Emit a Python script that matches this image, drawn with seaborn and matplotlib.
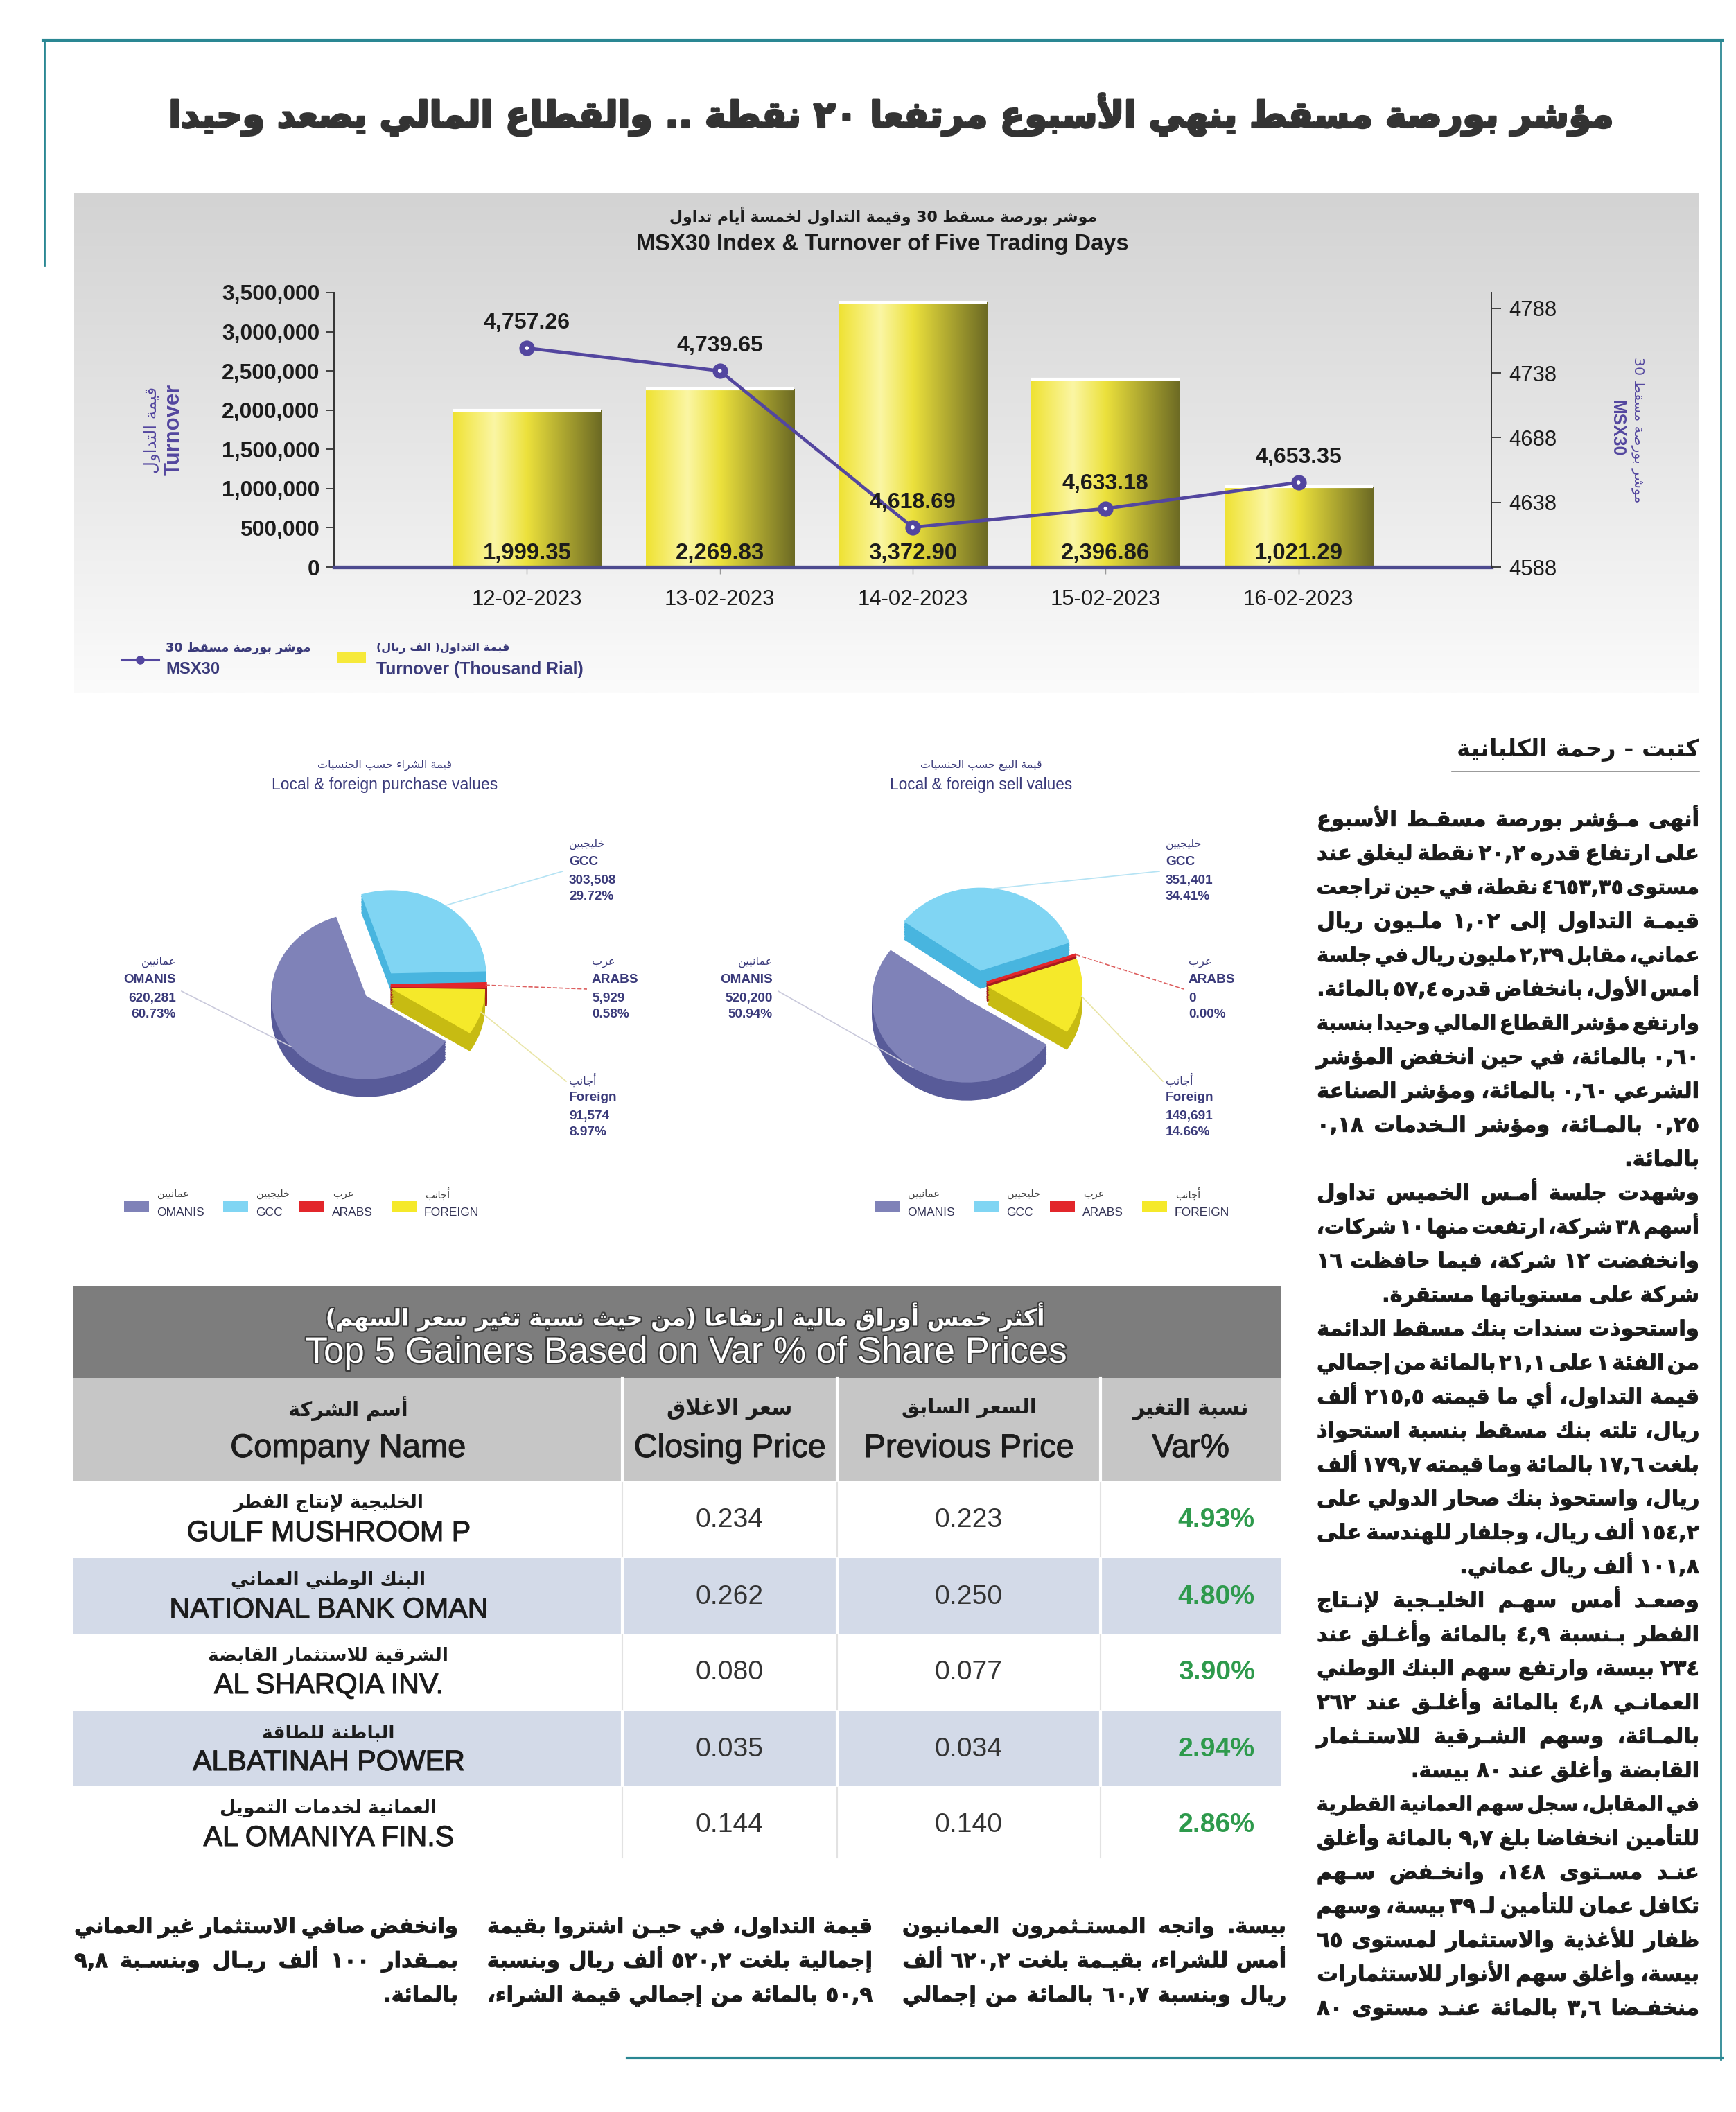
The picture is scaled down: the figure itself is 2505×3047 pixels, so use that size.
import numpy as np
import pandas as pd
import matplotlib
matplotlib.use('Agg')
import matplotlib.pyplot as plt
import seaborn as sns
from matplotlib.colors import LinearSegmentedColormap
from matplotlib.patches import Rectangle
from matplotlib.lines import Line2D
from matplotlib import font_manager as fm
from matplotlib.font_manager import FontProperties
from matplotlib.textpath import text_to_path
import matplotlib.patheffects as pe

# ------------------------------------------------------------------ data
title_ar = 'مؤشر بورصة مسقط ينهي الأسبوع مرتفعا ٢٠ نقطة .. والقطاع المالي يصعد وحيدا'
byline_ar = 'كتبت - رحمة الكلبانية'

chart_title_ar = 'موشر بورصة مسقط 30 وقيمة التداول لخمسة أيام تداول'
chart_title_en = 'MSX30 Index & Turnover of Five Trading Days'
dates = ['12-02-2023', '13-02-2023', '14-02-2023', '15-02-2023', '16-02-2023']
turnover_thousand = [1999.35, 2269.83, 3372.90, 2396.86, 1021.29]
msx30 = [4757.26, 4739.65, 4618.69, 4633.18, 4653.35]
left_ticks = [0, 500000, 1000000, 1500000, 2000000, 2500000, 3000000, 3500000]
right_ticks = [4588, 4638, 4688, 4738, 4788]
left_label_ar = 'قيمة التداول'
left_label_en = 'Turnover'
right_label_ar = 'موشر بورصة مسقط 30'
right_label_en = 'MSX30'
legend_line_ar = 'موشر بورصة مسقط 30'
legend_line_en = 'MSX30'
legend_bar_ar = 'قيمة التداول( الف ريال)'
legend_bar_en = 'Turnover (Thousand Rial)'

groups_ar = ['عمانيين', 'خليجيين', 'عرب', 'أجانب']
groups_label = ['OMANIS', 'GCC', 'ARABS', 'Foreign']
groups_legend = ['OMANIS', 'GCC', 'ARABS', 'FOREIGN']
buy_title_ar = 'قيمة الشراء حسب الجنسيات'
buy_title_en = 'Local & foreign purchase values'
buy_values = [620281, 303508, 5929, 91574]
buy_pct = [60.73, 29.72, 0.58, 8.97]
sell_title_ar = 'قيمة البيع حسب الجنسيات'
sell_title_en = 'Local & foreign sell values'
sell_values = [520200, 351401, 0, 149691]
sell_pct = [50.94, 34.41, 0.00, 14.66]

table_title_ar = 'أكثر خمس أوراق مالية ارتفاعا (من حيث نسبة تغير سعر السهم)'
table_title_en = 'Top 5 Gainers Based on Var % of Share Prices'
headers_ar = ['أسم الشركة', 'سعر الاغلاق', 'السعر السابق', 'نسبة التغير']
headers_en = ['Company Name', 'Closing Price', 'Previous Price', 'Var%']
companies_ar = ['الخليجية لإنتاج الفطر', 'البنك الوطني العماني', 'الشرقية للاستثمار القابضة',
                'الباطنة للطاقة', 'العمانية لخدمات التمويل']
companies_en = ['GULF MUSHROOM P', 'NATIONAL BANK OMAN', 'AL SHARQIA INV.',
                'ALBATINAH POWER', 'AL OMANIYA FIN.S']
closing_price = [0.234, 0.262, 0.080, 0.035, 0.144]
previous_price = [0.223, 0.250, 0.077, 0.034, 0.140]
var_pct = [4.93, 4.80, 3.90, 2.94, 2.86]

body_lines = [
    'أنهى مؤشر بورصة مسقط الأسبوع',
    'على ارتفاع قدره ٢٠,٢ نقطة ليغلق عند',
    'مستوى ٤٦٥٣,٣٥ نقطة، في حين تراجعت',
    'قيمة التداول إلى ١,٠٢ مليون ريال',
    'عماني، مقابل ٢,٣٩ مليون ريال في جلسة',
    'أمس الأول، بانخفاض قدره ٥٧,٤ بالمائة.',
    'وارتفع مؤشر القطاع المالي وحيدًا بنسبة',
    '٠,٦٠ بالمائة، في حين انخفض المؤشر',
    'الشرعي ٠,٦٠ بالمائة، ومؤشر الصناعة',
    '٠,٢٥ بالمائة، ومؤشر الخدمات ٠,١٨',
    'بالمائة.',
    'وشهدت جلسة أمس الخميس تداول',
    'أسهم ٣٨ شركة، ارتفعت منها ١٠ شركات،',
    'وانخفضت ١٢ شركة، فيما حافظت ١٦',
    'شركة على مستوياتها مستقرة.',
    'واستحوذت سندات بنك مسقط الدائمة',
    'من الفئة ١ على ٢١,١ بالمائة من إجمالي',
    'قيمة التداول، أي ما قيمته ٢١٥,٥ ألف',
    'ريال، تلته بنك مسقط بنسبة استحواذ',
    'بلغت ١٧,٦ بالمائة وما قيمته ١٧٩,٧ ألف',
    'ريال، واستحوذ بنك صحار الدولي على',
    '١٥٤,٢ ألف ريال، وجلفار للهندسة على',
    '١٠١,٨ ألف ريال عماني.',
    'وصعد أمس سهم الخليجية لإنتاج',
    'الفطر بنسبة ٤,٩ بالمائة وأغلق عند',
    '٢٣٤ بيسة، وارتفع سهم البنك الوطني',
    'العماني ٤,٨ بالمائة وأغلق عند ٢٦٢',
    'بالمائة، وسهم الشرقية للاستثمار',
    'القابضة وأغلق عند ٨٠ بيسة.',
    'في المقابل، سجل سهم العمانية القطرية',
    'للتأمين انخفاضًا بلغ ٩,٧ بالمائة وأغلق',
    'عند مستوى ١٤٨، وانخفض سهم',
    'تكافل عمان للتأمين لـ ٣٩ بيسة، وسهم',
    'ظفار للأغذية والاستثمار لمستوى ٦٥',
    'بيسة، وأغلق سهم الأنوار للاستثمارات',
    'منخفضًا ٣,٦ بالمائة عند مستوى ٨٠',
]
bottom_col_1 = ['بيسة. واتجه المستثمرون العمانيون',
                'أمس للشراء، بقيمة بلغت ٦٢٠,٢ ألف',
                'ريال وبنسبة ٦٠,٧ بالمائة من إجمالي']
bottom_col_2 = ['قيمة التداول، في حين اشتروا بقيمة',
                'إجمالية بلغت ٥٢٠,٢ ألف ريال وبنسبة',
                '٥٠,٩ بالمائة من إجمالي قيمة الشراء،']
bottom_col_3 = ['وانخفض صافي الاستثمار غير العماني',
                'بمقدار ١٠٠ ألف ريال وبنسبة ٩,٨',
                'بالمائة.']

# ------------------------------------------------------------------ Arabic shaping
_R = {'آ': 0xFE81, 'أ': 0xFE83, 'ؤ': 0xFE85, 'إ': 0xFE87, 'ا': 0xFE8D, 'ة': 0xFE93,
      'د': 0xFEA9, 'ذ': 0xFEAB, 'ر': 0xFEAD, 'ز': 0xFEAF, 'و': 0xFEED, 'ى': 0xFEEF}
_D = {'ئ': 0xFE89, 'ب': 0xFE8F, 'ت': 0xFE95, 'ث': 0xFE99, 'ج': 0xFE9D, 'ح': 0xFEA1,
      'خ': 0xFEA5, 'س': 0xFEB1, 'ش': 0xFEB5, 'ص': 0xFEB9, 'ض': 0xFEBD, 'ط': 0xFEC1,
      'ظ': 0xFEC5, 'ع': 0xFEC9, 'غ': 0xFECD, 'ف': 0xFED1, 'ق': 0xFED5, 'ك': 0xFED9,
      'ل': 0xFEDD, 'م': 0xFEE1, 'ن': 0xFEE5, 'ه': 0xFEE9, 'ي': 0xFEF1}
_LA = {'آ': 0xFEF5, 'أ': 0xFEF7, 'إ': 0xFEF9, 'ا': 0xFEFB}
TATWEEL = '\u0640'


def _strip(s):
    return ''.join(c for c in s if not ('\u064B' <= c <= '\u0652'))


def _jt(c):
    if c == TATWEEL or c in _D:
        return 'D'
    if c in _R:
        return 'R'
    return None


def shape(s):
    s = _strip(s)
    out = []
    i, n = 0, len(s)
    while i < n:
        c = s[i]
        t = _jt(c)
        if t is None:
            out.append('\uFE80' if c == 'ء' else c)
            i += 1
            continue
        jp = i > 0 and _jt(s[i - 1]) == 'D'
        if c == 'ل' and i + 1 < n and s[i + 1] in _LA:
            b = _LA[s[i + 1]]
            out.append(chr(b + 1 if jp else b))
            i += 2
            continue
        if c == TATWEEL:
            out.append(c)
            i += 1
            continue
        jn = t == 'D' and i + 1 < n and _jt(s[i + 1]) in ('D', 'R')
        if t == 'D':
            b = _D[c]
            g = b + 3 if (jp and jn) else (b + 1 if jp else (b + 2 if jn else b))
        else:
            b = _R[c]
            g = b + 1 if jp else b
        out.append(chr(g))
        i += 1
    return ''.join(out)


def _ltr(c):
    return ('0' <= c <= '9') or ('\u0660' <= c <= '\u0669') or ('A' <= c <= 'Z') or ('a' <= c <= 'z')


_MIR = {'(': ')', ')': '('}


def ar(s):
    g = shape(s)
    runs = []
    i, n = 0, len(g)
    while i < n:
        if _ltr(g[i]):
            j = i + 1
            while j < n:
                if _ltr(g[j]) or g[j] == '%':
                    j += 1
                elif g[j] in '.,:/-' and j + 1 < n and _ltr(g[j + 1]):
                    j += 1
                else:
                    break
            runs.append((True, g[i:j]))
        else:
            j = i + 1
            while j < n and not _ltr(g[j]):
                j += 1
            runs.append((False, g[i:j]))
        i = j
    return ''.join(t if l else ''.join(_MIR.get(c, c) for c in reversed(t)) for l, t in reversed(runs))


# ------------------------------------------------------------------ figure helpers
W_PX, H_PX, DPI = 2505, 3047, 100
fig = plt.figure(figsize=(W_PX / DPI, H_PX / DPI), dpi=DPI)
fig.patch.set_facecolor('white')

_names = {f.name for f in fm.fontManager.ttflist}
NARROW = 'Liberation Sans Narrow' if 'Liberation Sans Narrow' in _names else 'Liberation Sans'
AR = 'DejaVu Sans'
TXT = '#1c1c1c'
NAVY = '#3a3a7a'
PURPLE = '#53469f'
TEAL = '#2a8793'


def fx(x):
    return x / W_PX


def fy(y):
    return 1.0 - y / H_PX


def measure(s, family, weight='normal', size=10.0):
    prop = FontProperties(family=family, weight=weight, size=size)
    w, h, d = text_to_path.get_text_width_height_descent(s, prop, ismath=False)
    return w * DPI / 72.0


def fit(s, width, family, weight='normal'):
    return 100.0 * width / measure(s, family, weight, 100.0)


def T(x, y, s, size, family=NARROW, weight='normal', color=TXT, ha='center', va='center', rot=0, **kw):
    return fig.text(fx(x), fy(y), s, fontsize=size, fontfamily=family, fontweight=weight,
                    color=color, ha=ha, va=va, rotation=rot, **kw)


def TW(x, y, s, width, family=NARROW, weight='normal', **kw):
    return T(x, y, s, fit(s, width, family, weight), family=family, weight=weight, **kw)


def A(x, y, s, width=None, size=None, weight='bold', maxsize=None, **kw):
    v = ar(s)
    if width is not None:
        size = fit(v, width, AR, weight)
        if maxsize:
            size = min(size, maxsize)
    return T(x, y, v, size, family=AR, weight=weight, **kw)


def fline(x0, y0, x1, y1, **kw):
    fig.add_artist(Line2D([fx(x0), fx(x1)], [fy(y0), fy(y1)], transform=fig.transFigure, **kw))


def frect(x0, y0, x1, y1, **kw):
    fig.add_artist(Rectangle((fx(x0), fy(y1)), fx(x1) - fx(x0), fy(y0) - fy(y1),
                             transform=fig.transFigure, **kw))


def kashida_positions(word):
    pos = []
    for i in range(len(word) - 1):
        c, d = word[i], word[i + 1]
        if _jt(c) == 'D' and c != TATWEEL and _jt(d) in ('D', 'R') and not (c == 'ل' and d in _LA):
            pos.append(i)
    return pos


def justified_line(line, xr, xl, yc, size, weight='bold', color=TXT, last=False, thick=0.0):
    words = _strip(line).split()
    Wd = xr - xl

    def widths(ws_, sz):
        return [measure(ar(w), AR, weight, sz) for w in ws_]

    em = size * DPI / 72.0
    sp = 0.3 * em
    ws = widths(words, size)
    total = sum(ws) + sp * (len(words) - 1)
    min_total = sum(ws) + 0.14 * em * (len(words) - 1)
    if min_total > Wd:
        size *= Wd / min_total * 0.995
        em = size * DPI / 72.0
        sp = 0.14 * em
        ws = widths(words, size)
        total = sum(ws) + sp * (len(words) - 1)
    gap = sp
    if len(words) > 1 and not (last and total < 0.85 * Wd):
        extra = Wd - total
        tw = measure(TATWEEL, AR, weight, size)
        k = int(extra * 0.55 / tw) if (tw > 0 and extra > 0) else 0
        cands = [(wi, p) for wi, w in enumerate(words) for p in kashida_positions(w)]
        if k > 0 and cands:
            k = min(k, 2 * len(cands))
            counts = {}
            for j in range(k):
                if k <= len(cands):
                    c = cands[int((j + 0.5) * len(cands) / k) % len(cands)]
                else:
                    c = cands[j % len(cands)]
                counts[c] = counts.get(c, 0) + 1
            words = [''.join(ch + TATWEEL * counts.get((wi, p), 0) for p, ch in enumerate(w))
                     for wi, w in enumerate(words)]
            ws = widths(words, size)
        gap = (Wd - sum(ws)) / (len(words) - 1)
    x = xr
    yb = yc + 0.22 * em
    extra_kw = {}
    if thick > 0:
        extra_kw['path_effects'] = [pe.withStroke(linewidth=thick, foreground=color)]
    for w, wd in zip(words, ws):
        fig.text(fx(x), fy(yb), ar(w), fontsize=size, fontfamily=AR, fontweight=weight,
                 color=color, ha='right', va='baseline', **extra_kw)
        x -= wd + gap


# ------------------------------------------------------------------ frame + title
fline(62, 58, 2485, 58, color=TEAL, lw=3)
fline(64, 58, 64, 383, color=TEAL, lw=2)
fline(2483, 58, 2483, 2971, color=TEAL, lw=2)
fline(905, 2969, 2485, 2969, color=TEAL, lw=3)

A(1286, 165, title_ar, width=2085, weight='bold', color='#333333',
  path_effects=[pe.withStroke(linewidth=2.2, foreground='#333333')])

# ------------------------------------------------------------------ bar + line chart
bg = fig.add_axes([fx(107), fy(1000), (2452 - 107) / W_PX, (1000 - 278) / H_PX])
bg_cmap = LinearSegmentedColormap.from_list('bg', ['#d3d3d3', '#e6e6e6', '#fbfbfb'])
bg.imshow(np.linspace(0, 1, 256)[:, None], cmap=bg_cmap, aspect='auto', extent=(0, 1, 0, 1))
bg.axis('off')
bg.set_zorder(-1)

A(1275, 311, chart_title_ar, width=618, weight='bold')
TW(1273, 352, chart_title_en, 711, weight='bold')

df = pd.DataFrame({'pos': np.arange(len(dates)), 'date': dates,
                   'turnover': np.array(turnover_thousand) * 1000.0, 'msx': msx30})

ax = fig.add_axes([fx(482), fy(818), (2152 - 482) / W_PX, (818 - 422) / H_PX])
ax.patch.set_alpha(0)
sns.barplot(data=df, x='pos', y='turnover', native_scale=True, orient='x', width=0.77,
            color='#f0e43a', saturation=1, errorbar=None, ax=ax)
bar_cmap = LinearSegmentedColormap.from_list(
    'bar', [(0, '#efe232'), (0.28, '#fbf6a4'), (0.5, '#ece13c'), (1, '#6c6a24')])
grad = np.linspace(0, 1, 256)[None, :]
for p in list(ax.patches):
    x0, w, h = p.get_x(), p.get_width(), p.get_height()
    im = ax.imshow(grad, cmap=bar_cmap, extent=(x0, x0 + w, 0, h), aspect='auto',
                   interpolation='bilinear', zorder=p.get_zorder() + 0.1)
    im.set_clip_path(p)
    ax.plot([x0, x0 + w], [h, h], color='white', lw=3, solid_capstyle='butt',
            zorder=p.get_zorder() + 0.2)
ax.set_xlim(-1.0, 5.0)
ax.set_ylim(0, 3.5e6)
ax.set_xlabel('')
ax.set_ylabel('')
ax.set_xticks(df['pos'])
ax.set_xticklabels(dates, fontsize=fit('12-02-2023', 159, NARROW), fontfamily=NARROW, color=TXT)
ax.set_yticks(left_ticks)
ax.set_yticklabels([f'{v:,}' for v in left_ticks], fontsize=fit('3,500,000', 142, NARROW, 'bold'),
                   fontfamily=NARROW, fontweight='bold', color=TXT)
ax.tick_params(axis='y', direction='out', length=9, width=1.3, color='#333333', pad=6)
ax.tick_params(axis='x', direction='out', length=7, width=1.0, color='#999999', pad=16)
for s in ('top', 'right'):
    ax.spines[s].set_visible(False)
ax.spines['left'].set_color('#333333')
ax.spines['left'].set_linewidth(1.4)
ax.spines['bottom'].set_color('#4d4b8f')
ax.spines['bottom'].set_linewidth(3.8)

bar_lbl_size = fit('1,999.35', 128, NARROW, 'bold')
for i, v in enumerate(turnover_thousand):
    ax.annotate(f'{v:,.2f}', (i, 0), xytext=(0, 14), textcoords='offset points', ha='center',
                va='center', fontsize=bar_lbl_size, fontfamily=NARROW, fontweight='bold', color=TXT,
                zorder=5)

ax2 = ax.twinx()
sns.lineplot(data=df, x='pos', y='msx', ax=ax2, color=PURPLE, linewidth=3.4, marker='o',
             markersize=16, markeredgewidth=0, markerfacecolor=PURPLE, zorder=4)
sns.scatterplot(data=df, x='pos', y='msx', ax=ax2, color='white', s=16, edgecolor='none',
                zorder=6, legend=False)
ax2.set_ylim(4588, 4800.2)
ax2.set_xlim(-1.0, 5.0)
ax2.set_xlabel('')
ax2.set_ylabel('')
ax2.set_yticks(right_ticks)
ax2.set_yticklabels([str(v) for v in right_ticks], fontsize=fit('4788', 69, NARROW),
                    fontfamily=NARROW, color=TXT)
ax2.tick_params(axis='y', direction='out', length=10, width=1.3, color='#333333', pad=8)
for s in ('top', 'left', 'bottom'):
    ax2.spines[s].set_visible(False)
ax2.spines['right'].set_color('#333333')
ax2.spines['right'].set_linewidth(1.4)
pt_lbl_size = fit('4,757.26', 125, NARROW, 'bold')
for i, v in enumerate(msx30):
    ax2.annotate(f'{v:,.2f}', (i, v), xytext=(0, 26), textcoords='offset points', ha='center',
                 va='center', fontsize=pt_lbl_size, fontfamily=NARROW, fontweight='bold',
                 color=TXT, zorder=7)

A(220, 620, left_label_ar, width=125, weight='normal', color=PURPLE, rot=90)
TW(251, 620, left_label_en, 132, weight='bold', color=PURPLE, rot=90)
TW(2333, 618, right_label_en, 81, weight='bold', color=PURPLE, rot=270)
A(2363, 620, right_label_ar, width=209, weight='normal', color=PURPLE, rot=270)

# chart legend
fline(175, 952, 229, 952, color=PURPLE, lw=2.2)
fig.add_artist(Line2D([fx(202)], [fy(952)], marker='o', ms=8, color=PURPLE, transform=fig.transFigure))
A(239, 935, legend_line_ar, width=209, weight='bold', color=NAVY, ha='left')
TW(239, 966, legend_line_en, 78, weight='bold', color=NAVY, ha='left')
frect(486, 940, 528, 956, facecolor='#f6e93a', edgecolor='none')
A(543, 935, legend_bar_ar, width=192, weight='bold', color=NAVY, ha='left')
TW(543, 966, legend_bar_en, 300, weight='bold', color=NAVY, ha='left')

# ------------------------------------------------------------------ pies
PIE_TOP = ['#7f82b8', '#80d5f3', '#e2262b', '#f5e92a']
PIE_SIDE = ['#585b99', '#48b5df', '#a31c1f', '#c7bb12']
LINE_COLS = ['#c9c9db', '#b5e3f4', '#dd5f5f', '#e9e5a6']
RX, RY = 137.0, 120.0
EXT = 1.7
EXPLODE = [0.2, 0.18, 0.1, 0.1]
START = -33
lbl_en_size = fit('OMANIS', 76, NARROW, 'bold')
lbl_ar_size = 11.5
leg_en_size = fit('OMANIS', 69, NARROW)


def draw_pie(cx, cy, values, pct, t_ar, t_ar_w, t_en, t_en_w, leg_x0):
    axp = fig.add_axes([fx(cx - EXT * RX), fy(cy + EXT * RY), 2 * EXT * RX / W_PX, 2 * EXT * RY / H_PX])
    depth = 26.0 / RY
    for d in np.linspace(depth, 0.0, 12)[:-1]:
        ws, _ = axp.pie(values, explode=EXPLODE, colors=PIE_SIDE, startangle=START,
                        counterclock=False, center=(0, -d), wedgeprops=dict(linewidth=0))
        ws[2].set_edgecolor(PIE_SIDE[2])
        ws[2].set_linewidth(3)
    ws, _ = axp.pie(values, explode=EXPLODE, colors=PIE_TOP, startangle=START,
                    counterclock=False, wedgeprops=dict(linewidth=0))
    ws[2].set_edgecolor(PIE_TOP[2])
    ws[2].set_linewidth(3)
    axp.set_xlim(-EXT, EXT)
    axp.set_ylim(-EXT, EXT)
    axp.set_aspect('auto')
    axp.axis('off')

    A(cx + 5, 1104, t_ar, width=t_ar_w, weight='normal', color=NAVY)
    TW(cx + 5, 1133, t_en, t_en_w, color=NAVY)

    spec = [(cx - 296, 1388, 'right'), (cx + 271, 1218, 'left'),
            (cx + 304, 1388, 'left'), (cx + 271, 1558, 'left')]
    ends = [(cx - 288, 1430), (cx + 262, 1257), (cx + 297, 1427), (cx + 267, 1560)]
    for k in range(4):
        lx, ly, ha = spec[k]
        A(lx, ly, groups_ar[k], size=lbl_ar_size, weight='normal', color=NAVY, ha=ha)
        T(lx, ly + 25, groups_label[k], lbl_en_size, weight='bold', color=NAVY, ha=ha)
        T(lx, ly + 52, f'{values[k]:,}', lbl_en_size, weight='bold', color=NAVY, ha=ha)
        T(lx, ly + 76, f'{pct[k]:.2f}%', lbl_en_size, weight='bold', color=NAVY, ha=ha)
        th = np.deg2rad((ws[k].theta1 + ws[k].theta2) / 2.0)
        rr = 1.0 + EXPLODE[k]
        sx, sy = cx + np.cos(th) * rr * RX, cy - np.sin(th) * rr * RY
        ex, ey = ends[k]
        fline(sx, sy, ex, ey, color=LINE_COLS[k], lw=1.2, ls='--' if k == 2 else '-')

    offs = [0, 143, 253, 386]
    for k in range(4):
        bx = leg_x0 + offs[k]
        frect(bx, 1732, bx + 36, 1749, facecolor=PIE_TOP[k], edgecolor='none')
        A(bx + 48, 1723, groups_ar[k], size=10.5, weight='normal', color='#444444', ha='left')
        T(bx + 47, 1750, groups_legend[k], leg_en_size, color='#333355', ha='left')


draw_pie(550, 1422, buy_values, buy_pct, buy_title_ar, 193, buy_title_en, 325, 179)
draw_pie(1411, 1422, sell_values, sell_pct, sell_title_ar, 175, sell_title_en, 263, 1262)

# ------------------------------------------------------------------ table
col_edges = [106, 898, 1208, 1588, 1848]
row_tops = [2137, 2248, 2357, 2468, 2577, 2682]
tab = fig.add_axes([fx(106), fy(2682), (1848 - 106) / W_PX, (2682 - 1855) / H_PX])
tab.set_xlim(106, 1848)
tab.set_ylim(2682, 1855)
tab.axis('off')


def cell(x0, y0, x1, y1, color):
    tab.add_patch(Rectangle((x0, y0), x1 - x0, y1 - y0, facecolor=color, edgecolor='none'))


cell(106, 1855, 1848, 1988, '#7d7d7d')
cell(106, 1988, 1848, 2137, '#c6c6c6')
for i in range(len(companies_en)):
    cell(106, row_tops[i], 1848, row_tops[i + 1], '#d3dae8' if i % 2 else '#ffffff')
for xe in col_edges[1:-1]:
    tab.plot([xe, xe], [1988, 2682], color='white', lw=3)
    for i in range(0, len(companies_en), 2):
        tab.plot([xe, xe], [row_tops[i] + 2, row_tops[i + 1] - 2], color='#e2e2e2', lw=1.5)

stroke = [pe.withStroke(linewidth=3, foreground='#3a3a3a')]
tcx = 990
tab.text(tcx, 1900, ar(table_title_ar), fontsize=fit(ar(table_title_ar), 1038, AR, 'bold'),
         fontfamily=AR, fontweight='bold', color='white', ha='center', va='center', path_effects=stroke)
tab.text(tcx, 1952, table_title_en, fontsize=fit(table_title_en, 1099, NARROW), fontfamily=NARROW,
         color='white', ha='center', va='center', path_effects=stroke)

hdr_cx = [(col_edges[j] + col_edges[j + 1]) / 2 for j in range(4)]
hdr_ar_w = [173, 184, 195, 190]
hdr_en_size = fit('Company Name', 340, NARROW)
dark = [pe.withStroke(linewidth=0.8, foreground=TXT)]
for j in range(4):
    v = ar(headers_ar[j])
    tab.text(hdr_cx[j], 2032, v, fontsize=min(fit(v, hdr_ar_w[j], AR, 'bold'), 22), fontfamily=AR,
             fontweight='bold', color=TXT, ha='center', va='center')
    tab.text(hdr_cx[j], 2090, headers_en[j], fontsize=hdr_en_size, fontfamily=NARROW,
             color=TXT, ha='center', va='center', path_effects=dark)

name_size = fit('NATIONAL BANK OMAN', 460, NARROW)
num_size = fit('0.234', 98, NARROW)
name_ar_size = min(fit(ar(companies_ar[0]), 274, AR, 'bold'), 20)
for i in range(len(companies_en)):
    top = row_tops[i]
    tab.text(474, top + 32, ar(companies_ar[i]), fontsize=name_ar_size, fontfamily=AR,
             fontweight='bold', color=TXT, ha='center', va='center')
    tab.text(474, top + 75, companies_en[i], fontsize=name_size, fontfamily=NARROW,
             color=TXT, ha='center', va='center', path_effects=dark)
    tab.text(hdr_cx[1], top + 56, f'{closing_price[i]:.3f}', fontsize=num_size, fontfamily=NARROW,
             color='#333333', ha='center', va='center')
    tab.text(hdr_cx[2], top + 56, f'{previous_price[i]:.3f}', fontsize=num_size, fontfamily=NARROW,
             color='#333333', ha='center', va='center')
    tab.text(1755, top + 56, f'{var_pct[i]:.2f}%', fontsize=num_size, fontfamily=NARROW,
             fontweight='bold', color='#2e9a4c', ha='center', va='center')

# ------------------------------------------------------------------ article text
A(2452, 1082, byline_ar, width=350, weight='bold', color=TXT, ha='right')
fline(2095, 1113, 2452, 1113, color='#888888', lw=1.2)

BODY = 22
for i, line in enumerate(body_lines):
    justified_line(line, 2452, 1900, 1185 + i * 49.0, BODY, last=line.endswith('.'), thick=0.6)

for (xr, xl), lines in zip([(1856, 1302), (1259, 703), (661, 107)],
                           [bottom_col_1, bottom_col_2, bottom_col_3]):
    for k, line in enumerate(lines):
        justified_line(line, xr, xl, 2782 + k * 49.5, BODY, last=line.endswith('.'), thick=0.6)

fig.savefig('out.png', dpi=DPI, facecolor='white')
